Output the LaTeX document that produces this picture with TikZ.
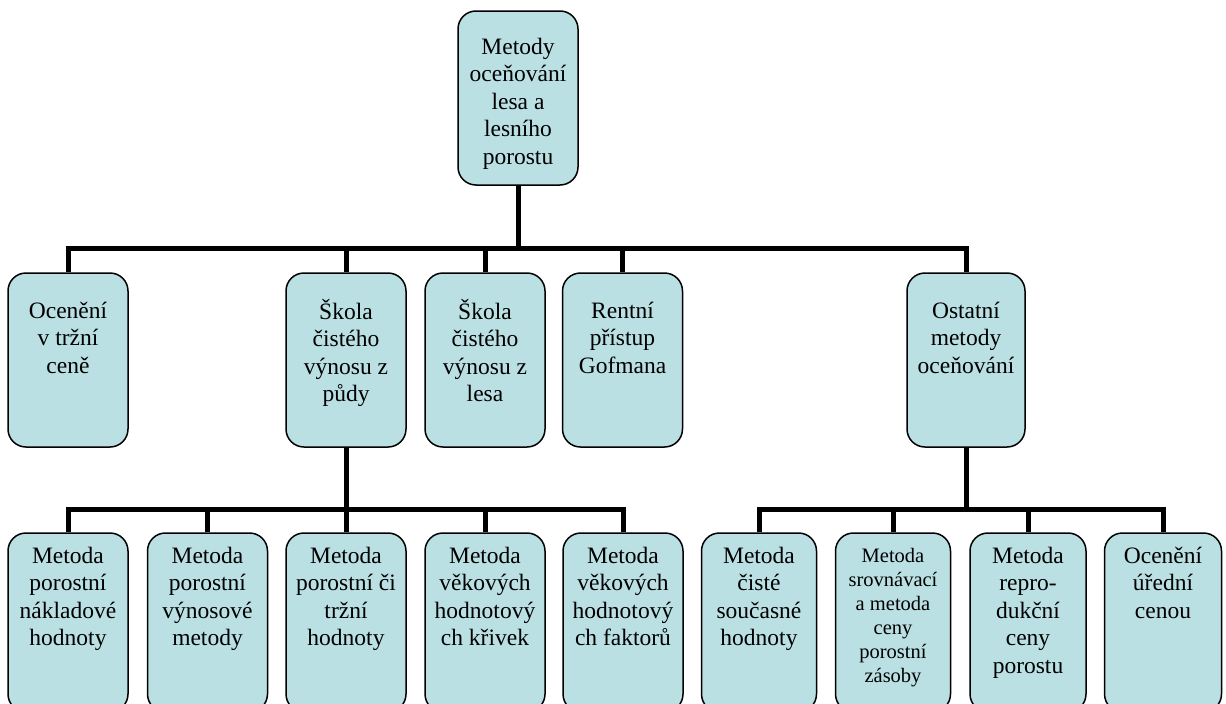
\documentclass[tikz,border=0pt]{standalone}
\usepackage{fontspec}
\setmainfont{Liberation Serif}
\usetikzlibrary{backgrounds}
\definecolor{boxfill}{RGB}{186,224,227}
\tikzset{
  box/.style={draw=black, line width=1.5pt, fill=boxfill, rounded corners=18pt, inner sep=0pt},
  lbl/.style={anchor=north, align=center, inner sep=0pt, font=\fontsize{23.5}{27.5}\selectfont},
  lblsmall/.style={lbl, font=\fontsize{20.5}{24}\selectfont},
  conn/.style={line width=5pt, draw=black}
}
% name, cx, top, bottom, width, text offset, text style, text
\newcommand\orgbox[8]{%
  \node[box, minimum width=#5pt, minimum height={#4pt-#3pt}] (#1) at (#2,{(#3+#4)/2}) {};
  \node[#7] (#1t) at (#2,{#3+#6}) {\strut #8};
}
\begin{document}
\begin{tikzpicture}[x=1pt,y=-1pt]
\useasboundingbox (0,0) rectangle (1226,704);
\clip (0,0) rectangle (1226,704);

\orgbox{top}{518}{11}{185}{120}{24}{lbl}{Metody\\oceňování\\lesa a\\lesního\\porostu}

\orgbox{A}{68}{273}{447}{120}{26}{lbl}{Ocenění\\v tržní\\ceně}
\orgbox{B}{346}{273}{447}{120}{26}{lbl}{Škola\\čistého\\výnosu z\\půdy}
\orgbox{C}{485}{273}{447}{120}{26}{lbl}{Škola\\čistého\\výnosu z\\lesa}
\orgbox{D}{622.5}{273}{447}{120}{26}{lbl}{Rentní\\přístup\\Gofmana}
\orgbox{E}{966}{273}{447}{118}{26}{lbl}{Ostatní\\metody\\oceňování}

\orgbox{L1}{68}{533}{712}{120}{11}{lbl}{Metoda\\porostní\\nákladové\\hodnoty}
\orgbox{L2}{207.5}{533}{712}{120}{11}{lbl}{Metoda\\porostní\\výnosové\\metody}
\orgbox{L3}{346}{533}{712}{120}{11}{lbl}{Metoda\\porostní či\\tržní\\hodnoty}
\orgbox{L4}{485}{533}{712}{120}{11}{lbl}{Metoda\\věkových\\hodnotový\\ch křivek}
\orgbox{L5}{623}{533}{712}{120}{11}{lbl}{Metoda\\věkových\\hodnotový\\ch faktorů}

\orgbox{R1}{759}{533}{712}{115}{11}{lbl}{Metoda\\čisté\\současné\\hodnoty}
\orgbox{R2}{893}{533}{712}{115}{12}{lblsmall}{Metoda\\srovnávací\\a metoda\\ceny\\porostní\\zásoby}
\orgbox{R3}{1028}{533}{712}{116}{11}{lbl}{Metoda\\repro-\\dukční\\ceny\\porostu}
\orgbox{R4}{1163}{533}{712}{117}{11}{lbl}{Ocenění\\úřední\\cenou}

\coordinate (j1) at (518,248);
\coordinate (j2) at (346,509);
\coordinate (j3) at (966,509);

\begin{scope}[on background layer]
  \draw[conn] (top.south) -- (j1);
  \draw[conn] (A.north) |- (j1) -| (E.north);
  \draw[conn] (B.north) -- (B.north |- j1);
  \draw[conn] (C.north) -- (C.north |- j1);
  \draw[conn] (D.north) -- (D.north |- j1);

  \draw[conn] (B.south) -- (L3.north);
  \draw[conn] (L1.north) |- (j2) -| (L5.north);
  \draw[conn] (L2.north) -- (L2.north |- j2);
  \draw[conn] (L4.north) -- (L4.north |- j2);

  \draw[conn] (E.south) -- (j3);
  \draw[conn] (R1.north) |- (j3) -| (R4.north);
  \draw[conn] (R2.north) -- (R2.north |- j3);
  \draw[conn] (R3.north) -- (R3.north |- j3);
\end{scope}
\end{tikzpicture}
\end{document}
